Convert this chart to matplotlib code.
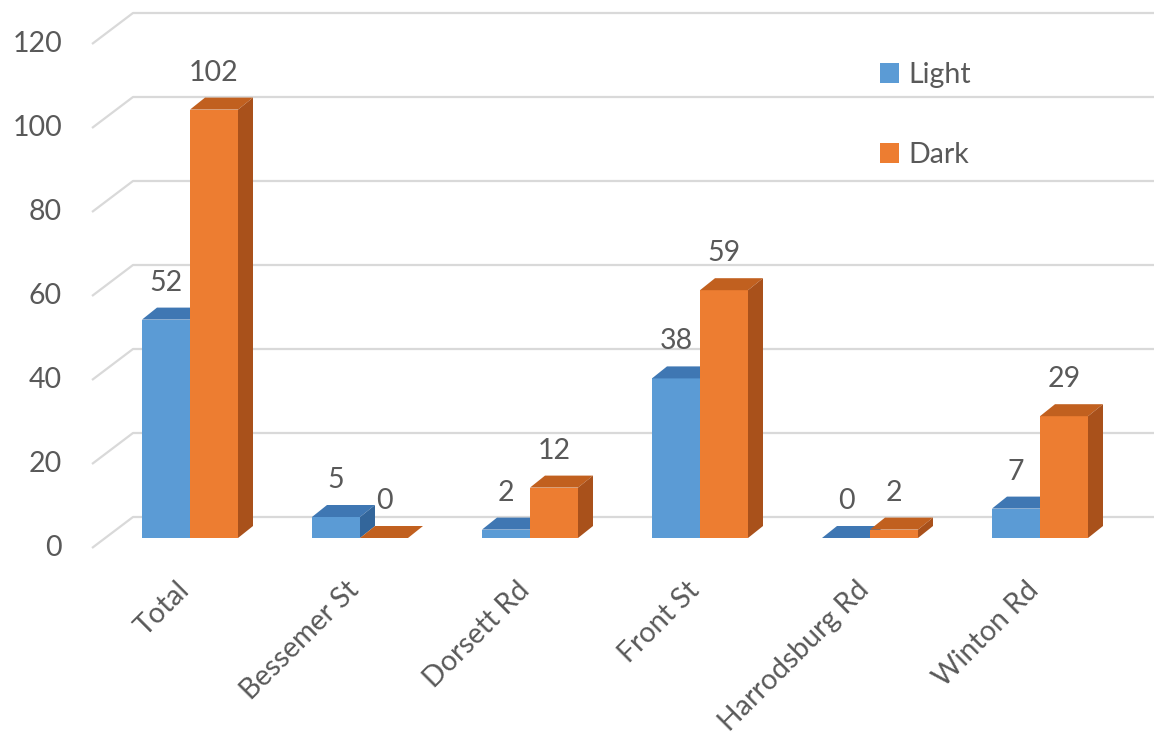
#!/usr/bin/env python3
"""Light vs Dark counts per road, drawn as Excel-style 3D clustered columns."""

import matplotlib
matplotlib.use("Agg")
import matplotlib.pyplot as plt
from matplotlib.patches import Polygon, Patch

categories = ["Total", "Bessemer St", "Dorsett Rd", "Front St", "Harrodsburg Rd", "Winton Rd"]
light = [52, 5, 2, 38, 0, 7]
dark = [102, 0, 12, 59, 2, 29]
y_ticks = [0, 20, 40, 60, 80, 100, 120]
series_names = ["Light", "Dark"]

# pixel scale of the picture (170 px per category, 4.2 px per unit)
PX_X = 170.0
PX_Y = 4.2
W, H = 1154, 744

BAR_W = 48 / PX_X
BAR_DX, BAR_DY = 15 / PX_X, 12 / PX_Y        # bar depth
WALL_DX, WALL_DY = 28 / PX_X, 21 / PX_Y      # back wall relative to bar fronts
FRONT_DX, FRONT_DY = -13 / PX_X, -10 / PX_Y  # front edge of the floor
X_LEFT = -98 / PX_X                           # left edge of the floor stubs

TEXT = "#595959"
GRID = "#d9d9d9"
FACES = {
    "Light": ("#5b9bd5", "#3f77b3", "#33669b"),
    "Dark": ("#ed7d31", "#c1601f", "#a9511b"),
}

plt.rcParams["font.family"] = ["Lato", "DejaVu Sans"]
FS = 20.5

fig = plt.figure(figsize=(W / 100, H / 100), dpi=100)
ax = fig.add_axes([0, 0, 1, 1])
ax.set_xlim(-190 / PX_X, (W - 190) / PX_X)
ax.set_ylim((538 - H) / PX_Y, 538 / PX_Y)
ax.axis("off")

# gridlines: diagonal stub on the side wall + horizontal line on the back wall
x_wall = X_LEFT + (WALL_DX - FRONT_DX)
for v in y_ticks:
    ax.plot([X_LEFT, x_wall, ax.get_xlim()[1]],
            [v + FRONT_DY, v + WALL_DY, v + WALL_DY],
            color=GRID, lw=1.6, zorder=1, solid_capstyle="butt")
    ax.text(X_LEFT - 30 / PX_X, v + FRONT_DY, str(v), ha="right", va="center",
            fontsize=FS, color=TEXT)


def draw_bar(x0, v, front, top, side):
    ax.add_patch(Polygon([(x0, 0), (x0 + BAR_W, 0), (x0 + BAR_W, v), (x0, v)],
                         closed=True, fc=front, ec="none", zorder=3))
    ax.add_patch(Polygon([(x0, v), (x0 + BAR_DX, v + BAR_DY),
                          (x0 + BAR_W + BAR_DX, v + BAR_DY), (x0 + BAR_W, v)],
                         closed=True, fc=top, ec="none", zorder=3))
    ax.add_patch(Polygon([(x0 + BAR_W, 0), (x0 + BAR_W + BAR_DX, BAR_DY),
                          (x0 + BAR_W + BAR_DX, v + BAR_DY), (x0 + BAR_W, v)],
                         closed=True, fc=side, ec="none", zorder=3))
    ax.text(x0 + BAR_W / 2, v + BAR_DY + 25 / PX_Y, str(v), ha="center",
            va="center", fontsize=FS, color=TEXT, zorder=4)


for i, cat in enumerate(categories):
    for j, (name, vals) in enumerate(zip(series_names, [light, dark])):
        x0 = i - BAR_W + j * BAR_W
        draw_bar(x0, vals[i], *FACES[name])
    ax.text(i - 5 / PX_X, -48 / PX_Y, cat, rotation=45, rotation_mode="anchor",
            ha="right", va="center", fontsize=FS, color=TEXT)

handles = [Patch(fc=FACES[n][0], ec="none") for n in series_names]
fig.legend(handles, series_names, loc="upper left",
           bbox_to_anchor=(880 / W, 1 - 62 / H), frameon=False,
           fontsize=FS, labelcolor=TEXT, handlelength=0.68, handleheight=0.68,
           handletextpad=0.3, labelspacing=1.9, borderpad=0, borderaxespad=0)

fig.savefig("out.png", dpi=100)
